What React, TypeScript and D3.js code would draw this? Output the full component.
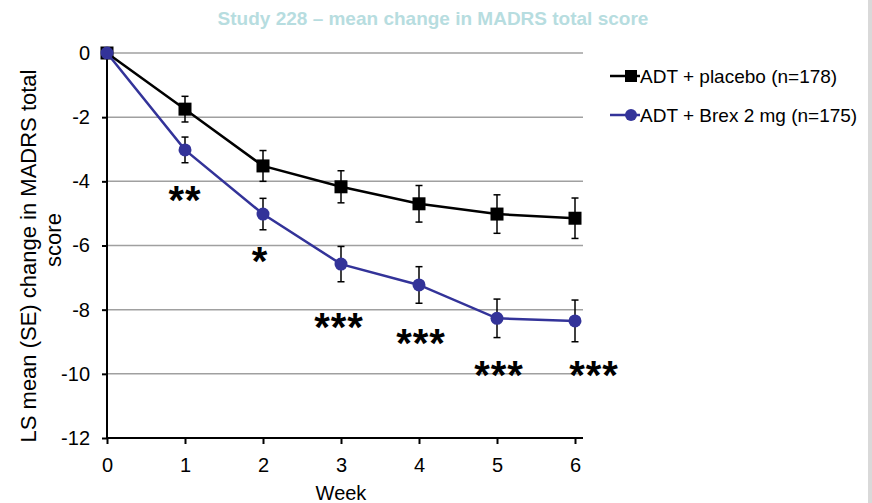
import { useEffect, useRef } from 'react';
import * as d3 from 'd3';

const weeks = [0, 1, 2, 3, 4, 5, 6];
const placeboMean = [0, -1.75, -3.52, -4.17, -4.7, -5.02, -5.15];
const placeboSE = [0, 0.4, 0.48, 0.5, 0.57, 0.6, 0.63];
const brexMean = [0, -3.02, -5.02, -6.58, -7.23, -8.27, -8.35];
const brexSE = [0, 0.4, 0.49, 0.55, 0.57, 0.6, 0.65];
const yTicks = [0, -2, -4, -6, -8, -10, -12];
// significance marks: week, label, y position in data units
const stars = [
  { week: 1, label: '**', y: -4.3, dx: 0 },
  { week: 2, label: '*', y: -6.2, dx: -3 },
  { week: 3, label: '***', y: -8.25, dx: -2 },
  { week: 4, label: '***', y: -8.75, dx: 2 },
  { week: 5, label: '***', y: -9.75, dx: 2 },
  { week: 6, label: '***', y: -9.75, dx: 19 },
];
const seriesNames = ['ADT + placebo (n=178)', 'ADT + Brex 2 mg (n=175)'];

export default function App() {
  const svgRef = useRef<SVGSVGElement>(null);

  useEffect(() => {
    if (!svgRef.current) return;
    const svg = d3.select(svgRef.current);
    svg.selectAll('*').remove();

    const font = 'Arial, "Liberation Sans", sans-serif';
    const x = d3.scaleLinear().domain([0, 6]).range([107, 575]);
    const y = d3.scaleLinear().domain([0, -12]).range([53, 438]);

    svg.append('rect').attr('width', 872).attr('height', 503).attr('fill', '#fff');
    svg.append('rect').attr('x', 868).attr('width', 4).attr('height', 503).attr('fill', '#d9d9d9');

    // title
    svg.append('text')
      .attr('x', 433).attr('y', 25)
      .attr('text-anchor', 'middle')
      .attr('font-family', font).attr('font-weight', 'bold').attr('font-size', 19)
      .attr('fill', '#b7dde0')
      .text('Study 228 \u2013 mean change in MADRS total score');

    // gridlines
    svg.append('g').selectAll('line')
      .data(yTicks.filter(d => d !== -12))
      .join('line')
      .attr('x1', x(0)).attr('x2', 583)
      .attr('y1', d => y(d)).attr('y2', d => y(d))
      .attr('stroke', '#a0a0a0').attr('stroke-width', 1.5);

    // axes
    const xAxis = svg.append('g')
      .attr('transform', `translate(0,${y(-12)})`)
      .call(d3.axisBottom(x).tickValues(weeks).tickSize(6).tickPadding(14).tickFormat(d3.format('d')));
    xAxis.select('.domain').attr('d', `M${x(0)},0H583`).attr('stroke', '#000').attr('stroke-width', 2);
    xAxis.selectAll('.tick line').attr('stroke', '#000').attr('stroke-width', 2);
    xAxis.selectAll('.tick text').attr('font-family', font).attr('font-size', 20).attr('fill', '#000');

    const yAxis = svg.append('g')
      .attr('transform', `translate(${x(0)},0)`)
      .call(d3.axisLeft(y).tickValues(yTicks).tickSize(5).tickPadding(12).tickFormat(d3.format('d')));
    yAxis.select('.domain').attr('d', `M0,${y(0)}V${y(-12)}`).attr('stroke', '#000').attr('stroke-width', 2);
    yAxis.selectAll('.tick line').attr('stroke', '#000').attr('stroke-width', 2);
    yAxis.selectAll('.tick text').attr('font-family', font).attr('font-size', 20).attr('fill', '#000')
      .text(d => (d as number) < 0 ? `-${Math.abs(d as number)}` : `${d}`);

    // axis titles
    svg.append('text')
      .attr('x', x(3)).attr('y', 500)
      .attr('text-anchor', 'middle')
      .attr('font-family', font).attr('font-size', 20)
      .text('Week');
    const yl = svg.append('text')
      .attr('transform', 'translate(36,256) rotate(-90)')
      .attr('text-anchor', 'middle')
      .attr('font-family', font).attr('font-size', 22);
    yl.append('tspan').attr('x', 0).attr('y', 0).text('LS mean (SE) change in MADRS total');
    yl.append('tspan').attr('x', 16).attr('y', 25).text('score');

    const series = [
      { mean: placeboMean, se: placeboSE, color: '#000000', shape: 'square' },
      { mean: brexMean, se: brexSE, color: '#333399', shape: 'circle' },
    ];

    const line = d3.line<number>().x((_, i) => x(weeks[i])).y(d => y(d));

    series.forEach(s => {
      const g = svg.append('g');
      g.append('path').datum(s.mean).attr('d', line)
        .attr('fill', 'none').attr('stroke', s.color).attr('stroke-width', 2.5);
      const eb = g.selectAll('g.eb').data(s.mean.map((m, i) => ({ m, se: s.se[i], w: weeks[i] })).filter(d => d.se > 0))
        .join('g');
      eb.append('line')
        .attr('x1', d => x(d.w)).attr('x2', d => x(d.w))
        .attr('y1', d => y(d.m - d.se)).attr('y2', d => y(d.m + d.se))
        .attr('stroke', '#000').attr('stroke-width', 1.5);
      [1, -1].forEach(sign => {
        eb.append('line')
          .attr('x1', d => x(d.w) - 3.5).attr('x2', d => x(d.w) + 3.5)
          .attr('y1', d => y(d.m + sign * d.se)).attr('y2', d => y(d.m + sign * d.se))
          .attr('stroke', '#000').attr('stroke-width', 1.5);
      });
      if (s.shape === 'square') {
        g.selectAll('rect').data(s.mean).join('rect')
          .attr('x', (_, i) => x(weeks[i]) - 6.5).attr('y', d => y(d) - 6.5)
          .attr('width', 13).attr('height', 13).attr('fill', s.color);
      } else {
        g.selectAll('circle').data(s.mean).join('circle')
          .attr('cx', (_, i) => x(weeks[i])).attr('cy', d => y(d))
          .attr('r', 6.5).attr('fill', s.color);
      }
    });

    // significance stars
    svg.append('g').selectAll('text').data(stars).join('text')
      .attr('x', d => x(d.week) + d.dx)
      .attr('y', d => y(d.y) + 23)
      .attr('text-anchor', 'middle')
      .attr('font-family', font).attr('font-weight', 'bold').attr('font-size', 40)
      .attr('letter-spacing', 1)
      .text(d => d.label);

    // legend
    const legend = svg.append('g');
    series.forEach((s, i) => {
      const ly = 76 + i * 39;
      legend.append('line').attr('x1', 610).attr('x2', 640).attr('y1', ly).attr('y2', ly)
        .attr('stroke', s.color).attr('stroke-width', 2.5);
      if (s.shape === 'square') {
        legend.append('rect').attr('x', 625).attr('y', ly - 6).attr('width', 12).attr('height', 12).attr('fill', s.color);
      } else {
        legend.append('circle').attr('cx', 631).attr('cy', ly).attr('r', 6).attr('fill', s.color);
      }
      legend.append('text').attr('x', 640).attr('y', ly + 7)
        .attr('font-family', font).attr('font-size', 19)
        .text(seriesNames[i]);
    });
  }, []);

  return <svg ref={svgRef} width={872} height={503} style={{ position: 'fixed', top: 0, left: 0 }} />;
}
